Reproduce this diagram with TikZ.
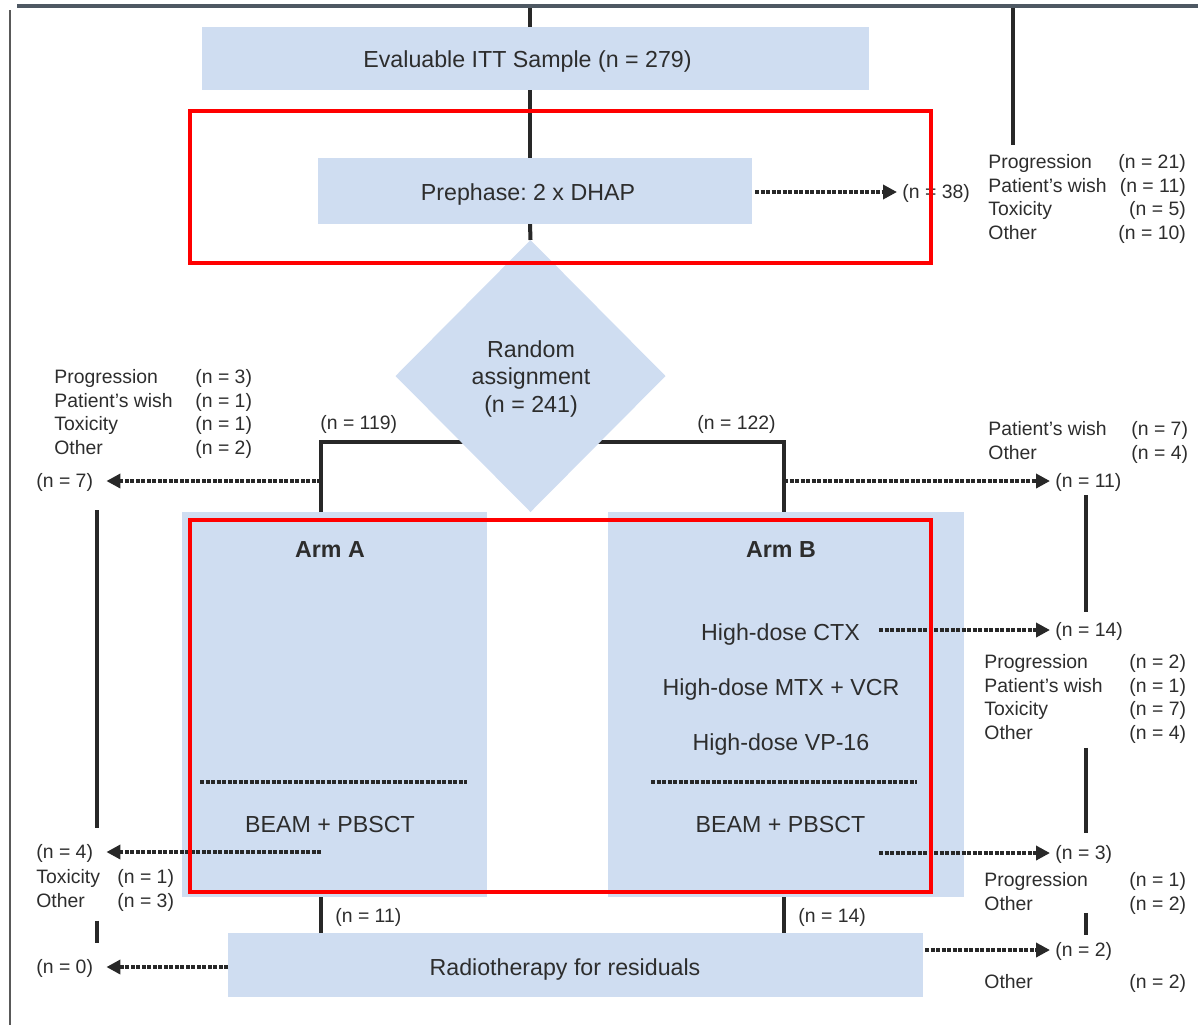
\documentclass[tikz,border=0pt]{standalone}
\usepackage{fontspec}
\setmainfont{Liberation Sans}
\usetikzlibrary{arrows.meta,shapes.geometric,backgrounds}
\definecolor{boxblue}{RGB}{207,221,241}
\definecolor{ink}{RGB}{45,45,45}
\definecolor{diagline}{RGB}{40,40,40}
\definecolor{pageframe}{RGB}{78,88,99}
\definecolor{hilite}{RGB}{255,0,0}
\frenchspacing

\begin{document}
\begin{tikzpicture}[x=0.5pt,y=-0.5pt,
  panel/.style={fill=boxblue, draw=none, inner sep=0pt, outer sep=0pt},
  bigtext/.style={font=\fontsize{11.6}{13.75}\selectfont, text=ink, inner sep=0pt,
                  text height=10.9pt, text depth=2.6pt},
  diatext/.style={font=\fontsize{11.6}{13.75}\selectfont, text=ink, inner sep=0pt, align=center},
  armhead/.style={bigtext, font=\fontsize{11.6}{13.75}\selectfont\bfseries},
  small/.style={font=\fontsize{9.7}{11.85}\selectfont, text=ink, inner sep=0pt,
                text height=8.95pt, text depth=2pt},
  reasons/.style={font=\fontsize{9.7}{11.85}\selectfont, text=ink, inner sep=0pt, anchor=north west},
  flow/.style={draw=diagline, line width=2pt},
  dots/.style={draw=diagline, line width=2.2pt, dash pattern=on 2pt off 0.75pt},
  droparrow/.style={dots, -{Triangle[length=7pt,width=7pt]}},
  hiframe/.style={draw=hilite, line width=2pt},
]
\useasboundingbox (0,0) rectangle (1198,1025);

% page rules
\draw[draw=pageframe, line width=1.6pt] (17,6) -- (1198,6);
\draw[draw=black!65, line width=1pt] (10,10) -- (10,1025);

% main boxes
\node[panel, minimum width=333.5pt, minimum height=31.5pt] (eval) at (535.5,58.5) {};
\node[bigtext] (evalT) at (527.5,59) {Evaluable ITT Sample (n = 279)};
\node[panel, minimum width=217pt, minimum height=33pt] (pre) at (535,191) {};
\node[bigtext] (preT) at (528,192) {Prephase: 2 x DHAP};
\node[panel, diamond, minimum width=135pt, minimum height=136pt] (dia) at (530.5,376) {};
\node[diatext] (diaT) at (531,378.5) {Random\\assignment\\(n = 241)};

\node[panel, minimum width=152.5pt, minimum height=192.5pt] (armA) at (334.5,704.5) {};
\node[panel, minimum width=178pt, minimum height=192.5pt] (armB) at (786,704.5) {};
\node[panel, minimum width=347.5pt, minimum height=32pt] (radio) at (575.5,965) {};
\node[bigtext] (radioT) at (565,967) {Radiotherapy for residuals};

% arm contents
\node[armhead] (armAT) at (330,549) {Arm A};
\node[armhead] (armBT) at (781,549) {Arm B};
\node[bigtext] (ctx) at (780.5,632) {High-dose CTX};
\node[bigtext] (mtx) at (781,687) {High-dose MTX + VCR};
\node[bigtext] (vp) at (781,742) {High-dose VP-16};
\node[bigtext] (beamA) at (330,824) {BEAM + PBSCT};
\node[bigtext] (beamB) at (780.5,824) {BEAM + PBSCT};
\draw[dots] (200,782) -- (467,782);
\draw[dots] (651,782) -- (917,782);

% counts
\node[small, anchor=west] (n38) at (902,192) {(n = 38)};
\node[small, anchor=west] (n119) at (320,423) {(n = 119)};
\node[small, anchor=west] (n122) at (697,423) {(n = 122)};
\node[small, anchor=west] (n7) at (36,481) {(n = 7)};
\node[small, anchor=west] (n11) at (1055,481) {(n = 11)};
\node[small, anchor=west] (n14) at (1055,630) {(n = 14)};
\node[small, anchor=west] (n4) at (36,852) {(n = 4)};
\node[small, anchor=west] (n3) at (1055,853) {(n = 3)};
\node[small, anchor=west] (n11r) at (335,916) {(n = 11)};
\node[small, anchor=west] (n14r) at (798,916) {(n = 14)};
\node[small, anchor=west] (n0) at (36,967) {(n = 0)};
\node[small, anchor=west] (n2) at (1055,950) {(n = 2)};

% reasons for leaving
\node[reasons] (lstPre) at (988,151.4) {\begin{tabular}{@{}p{65pt}@{}r@{}}
Progression & (n = 21)\\ Patient’s wish & (n = 11)\\ Toxicity & (n = 5)\\ Other & (n = 10)\end{tabular}};
\node[reasons] (lstA) at (54,366.4) {\begin{tabular}{@{}p{70.5pt}@{}l@{}}
Progression & (n = 3)\\ Patient’s wish & (n = 1)\\ Toxicity & (n = 1)\\ Other & (n = 2)\end{tabular}};
\node[reasons] (lstB) at (988,418.4) {\begin{tabular}{@{}p{71.5pt}@{}l@{}}
Patient’s wish & (n = 7)\\ Other & (n = 4)\end{tabular}};
\node[reasons] (lstHD) at (984,651.4) {\begin{tabular}{@{}p{72.5pt}@{}l@{}}
Progression & (n = 2)\\ Patient’s wish & (n = 1)\\ Toxicity & (n = 7)\\ Other & (n = 4)\end{tabular}};
\node[reasons] (lstBA) at (36,866.4) {\begin{tabular}{@{}p{40.5pt}@{}l@{}}
Toxicity & (n = 1)\\ Other & (n = 3)\end{tabular}};
\node[reasons] (lstBB) at (984,869.4) {\begin{tabular}{@{}p{72.5pt}@{}l@{}}
Progression & (n = 1)\\ Other & (n = 2)\end{tabular}};
\node[reasons] (lstRT) at (984,971.4) {\begin{tabular}{@{}p{72.5pt}@{}l@{}}
Other & (n = 2)\end{tabular}};

% fixed points of the solid flow lines
\coordinate (topC) at (530,8);
\coordinate (topR) at (1013,8);
\coordinate (splitA) at (321,442);
\coordinate (splitB) at (784,442);
\coordinate (colL) at (97,500);
\coordinate (colR) at (1086,500);

\begin{scope}[on background layer]
  \draw[flow] (topC) -- (topC |- eval.north);
  \draw[flow] (topC |- eval.south) -- (topC |- pre.north);
  \draw[flow] (topC |- pre.south) -- (dia.north);
  \draw[flow] (dia.center |- splitA) -- (splitA) -- (armA.north -| splitA);
  \draw[flow] (dia.center |- splitB) -- (splitB) -- (armB.north -| splitB);
  \draw[flow] (armA.south -| splitA) -- (radio.north -| splitA);
  \draw[flow] (armB.south -| splitB) -- (radio.north -| splitB);
\end{scope}

% side flow lines
\draw[flow, shorten >=3.2pt] (topR) -- (lstPre.north -| topR);
\draw[flow, shorten <=9pt, shorten >=6.5pt] (n7.south -| colL) -- (n4.north -| colL);
\draw[flow, shorten <=3pt, shorten >=6.5pt] (lstBA.south -| colL) -- (n0.north -| colL);
\draw[flow, shorten <=1.5pt, shorten >=3.5pt] (n11.south -| colR) -- (n14.north -| colR);
\draw[flow, shorten <=0.4pt, shorten >=4.5pt] (lstHD.south -| colR) -- (n3.north -| colR);
\draw[flow, shorten <=-2.4pt, shorten >=2pt] (lstBB.south -| colR) -- (n2.north -| colR);

% drop-out arrows
\draw[droparrow, shorten <=1.5pt, shorten >=2.5pt] (pre.east |- n38) -- (n38.west);
\draw[droparrow, shorten >=6.5pt] (splitA |- n7) -- (n7.east);
\draw[droparrow, shorten >=2.5pt] (splitB |- n11) -- (n11.west);
\draw[droparrow, shorten <=9.5pt, shorten >=2.5pt] (ctx.east |- n14) -- (n14.west);
\draw[droparrow, shorten >=6.5pt] (splitA |- n4) -- (n4.east);
\draw[droparrow, shorten <=9.5pt, shorten >=2.5pt] (ctx.east |- n3) -- (n3.west);
\draw[droparrow, shorten >=6.5pt] (radio.west |- n0) -- (n0.east);
\draw[droparrow, shorten <=1pt, shorten >=2.5pt] (radio.east |- n2) -- (n2.west);

% highlight frames
\draw[hiframe] (190,111) rectangle (931,263);
\draw[hiframe] (190,520) rectangle (931,892);
\end{tikzpicture}
\end{document}
